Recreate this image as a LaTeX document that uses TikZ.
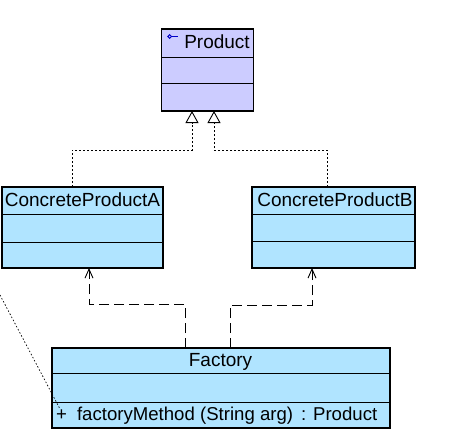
\documentclass[tikz,border=0pt]{standalone}
\usepackage{fontspec}
\setmainfont{Liberation Sans}
\usetikzlibrary{arrows.meta}
\definecolor{prodfill}{RGB}{204,204,255}
\definecolor{clsfill}{RGB}{176,228,255}
\definecolor{iconcol}{RGB}{0,0,200}
\begin{document}
\begin{tikzpicture}[x=1pt,y=-1pt,
  box/.style={draw=black, line width=1.1pt, inner sep=0pt, outer sep=0pt},
  lbl/.style={font=\fontsize{19}{22}\selectfont, inner sep=0pt, anchor=base},
  divider/.style={draw=black, line width=1pt},
  gen/.style={draw, line width=0.9pt, dash pattern=on 2pt off 2pt, -{Triangle[open, length=12pt, width=13pt]}},
  dep/.style={draw, line width=0.9pt, dash pattern=on 10pt off 5pt, -{Straight Barb[length=9pt, width=8pt]}},
  notelink/.style={draw, line width=0.7pt, dash pattern=on 1.5pt off 2pt},
  icon/.style={draw=iconcol, line width=1pt},
]
\useasboundingbox (0,0) rectangle (458,442);

% Product
\node[box, fill=prodfill, minimum width=92pt, minimum height=82pt] (product) at (207.5,70) {};
\draw[divider] (161.5,57) -- (253.5,57);
\draw[divider] (161.5,83) -- (253.5,83);
\node[lbl] (productname) at (217,48) {Product};
\draw[icon] (169.7,36.5) circle (1.8pt);
\draw[icon] (171.5,36.5) -- (177.5,36.5);

% ConcreteProductA
\node[box, fill=clsfill, minimum width=161pt, minimum height=81pt] (cpa) at (82.5,227.5) {};
\draw[divider] (2,214) -- (163,214);
\draw[divider] (2,242) -- (163,242);
\node[lbl] (cpaname) at (82.5,206) {ConcreteProductA};

% ConcreteProductB
\node[box, fill=clsfill, minimum width=163pt, minimum height=81pt] (cpb) at (333.5,227.5) {};
\draw[divider] (252,214) -- (415,214);
\draw[divider] (252,241) -- (415,241);
\node[lbl] (cpbname) at (335,206) {ConcreteProductB};

% Factory
\node[box, fill=clsfill, minimum width=338pt, minimum height=80pt] (factory) at (221,388) {};
\draw[divider] (52,373) -- (390,373);
\draw[divider] (52,402) -- (390,402);
\node[lbl] (factoryname) at (220.5,366) {Factory};
\node[lbl, anchor=base west, font=\fontsize{18.6}{22}\selectfont] (factorymethod) at (56,420) {+\hspace{10pt}factoryMethod (String arg)\hspace{8pt}: Product};

% Generalizations
\draw[gen] (cpa.north -| 72,0) |- (192,150) -- (product.south -| 192,0);
\draw[gen] (cpb.north -| 327,0) |- (214,150) -- (product.south -| 214,0);

% Dependencies
\draw[dep] (factory.north -| 185,0) |- (89,304) -- (cpa.south -| 89,0);
\draw[dep] (factory.north -| 230,0) |- (312,305) -- (cpb.south -| 312,0);

% Note link (cut off)
\coordinate (notefree) at (0,295);
\coordinate (noteend) at (60,409);
\draw[notelink] (notefree) -- (noteend);
\end{tikzpicture}
\end{document}
